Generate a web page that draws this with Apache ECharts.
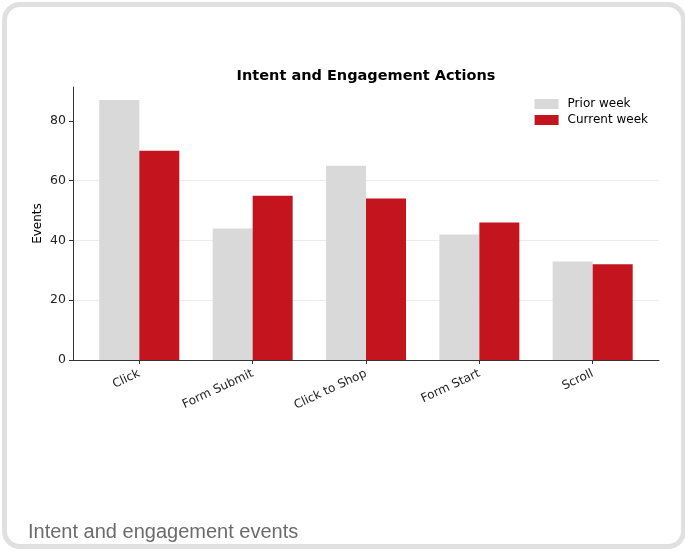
<!DOCTYPE html>
<html><head><meta charset="utf-8">
<script src="https://cdn.jsdelivr.net/npm/echarts@6/dist/echarts.min.js"></script>
<style>
html,body{margin:0;padding:0;background:#fff;width:685px;height:551px;overflow:hidden;}
#card{position:absolute;left:2px;top:2px;width:674px;height:537px;border:5px solid #e0e0e0;border-radius:18px;background:#fff;}
#chart{position:absolute;left:0;top:0;width:685px;height:551px;}
</style></head>
<body>
<div id="card"></div>
<div id="chart"></div>
<script>
const categories = ['Click', 'Form Submit', 'Click to Shop', 'Form Start', 'Scroll'];
const priorWeek = [87, 44, 65, 42, 33];
const currentWeek = [70, 55, 54, 46, 32];
const yTicks = [0, 20, 40, 60, 80];

const chart = echarts.init(document.getElementById('chart'), null, {renderer: 'canvas'});
const idx = categories.map((c, i) => i);
const font = 'DejaVu Sans';
chart.setOption({
  backgroundColor: 'transparent',
  animation: false,
  title: [
    {text: 'Intent and Engagement Actions', left: 361, top: 64, textAlign: 'center',
     textStyle: {fontFamily: font, fontSize: 14.5, fontWeight: 'bold', color: '#000'}},
    {text: 'Intent and engagement events', left: 23, top: 517,
     textStyle: {fontFamily: 'Liberation Sans', fontSize: 20, fontWeight: 'normal', color: '#6b6b6b'}}
  ],
  legend: {
    orient: 'vertical', right: 32, top: 93, itemWidth: 24, itemHeight: 10, itemGap: 4,
    icon: 'rect',
    textStyle: {fontFamily: font, fontSize: 12, color: '#000', padding: [0, 0, 0, 4]},
    data: ['Prior week', 'Current week']
  },
  grid: {left: 73, right: 26, top: 87, bottom: 191, containLabel: false},
  xAxis: {
    type: 'value', min: -0.585, max: 4.585,
    splitLine: {show: false},
    axisLine: {show: true, onZero: false, lineStyle: {color: '#333', width: 1}},
    axisTick: {show: true, customValues: idx, length: 4, lineStyle: {color: '#333'}},
    axisLabel: {customValues: idx, rotate: 25, formatter: v => categories[Math.round(v)] || '',
      fontFamily: font, fontSize: 12, color: '#222', margin: 13}
  },
  yAxis: {
    type: 'value', min: 0, max: 91.35, interval: 20,
    name: 'Events', nameLocation: 'middle', nameGap: 29, nameMoveOverlap: false,
    nameTextStyle: {fontFamily: font, fontSize: 12, color: '#000'},
    axisLine: {show: true, onZero: false, lineStyle: {color: '#333', width: 1}},
    axisTick: {show: true, customValues: yTicks, length: 4, lineStyle: {color: '#333'}},
    axisLabel: {customValues: yTicks, fontFamily: font, fontSize: 12.5, color: '#222', margin: 7},
    splitLine: {show: true, showMaxLine: false, lineStyle: {color: '#ececec', width: 1}}
  },
  series: [
    {name: 'Prior week', type: 'bar', barWidth: 40, barGap: '0%',
     itemStyle: {color: '#d9d9d9'}, data: priorWeek.map((v, i) => [i, v])},
    {name: 'Current week', type: 'bar', barWidth: 40, barGap: '0%',
     itemStyle: {color: '#c4141e'}, data: currentWeek.map((v, i) => [i, v])}
  ]
});
</script>
</body></html>
